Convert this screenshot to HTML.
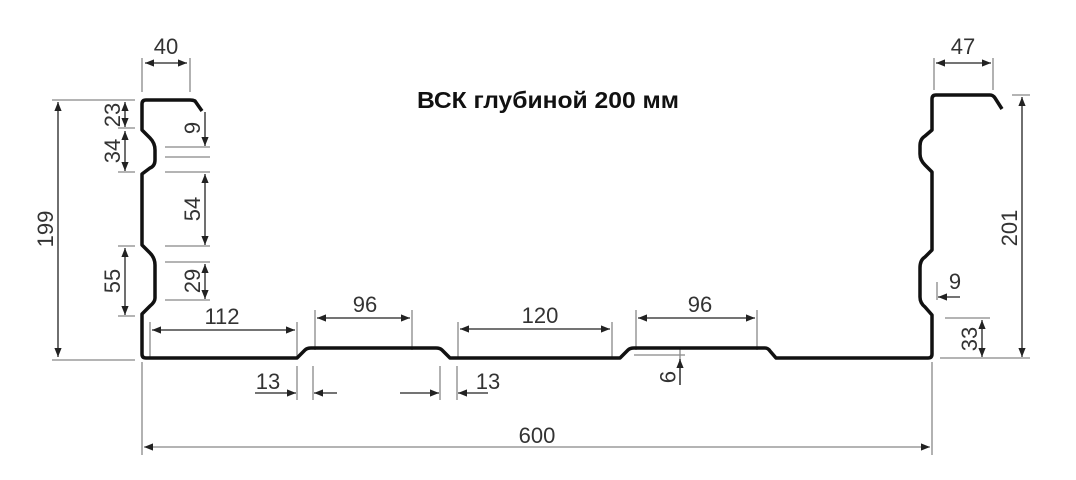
<!DOCTYPE html>
<html><head><meta charset="utf-8"><style>body{margin:0;background:#fff}svg{display:block}</style></head><body>
<svg width="1076" height="480" viewBox="0 0 1076 480" xmlns="http://www.w3.org/2000/svg">
<defs>
<marker id="a" viewBox="0 0 10 10" refX="10" refY="5" markerWidth="9" markerHeight="9" orient="auto-start-reverse" markerUnits="userSpaceOnUse"><path d="M0,1L10,5L0,9z" fill="#222"/></marker>
</defs>
<g stroke="#888" stroke-width="1.3" fill="none">
<path d="M142,58V92M190,58V92M52,100H135M52,360H135M118,128H135M118,172H135M118,246H135M118,316H135M165,147H210M165,157H210M165,172H210M165,246H210M165,262H210M165,300H210M150,322V358M297,322V358M315,310V350M412,310V350M458,322V358M612,322V358M636,310V350M757,310V350M297,366V400M313,366V400M440,366V400M457,366V400M634,355H685M680,348V385M142,362V455M932,362V455M934,58V90M993,58V90M1012,95H1030M940,358H1030M945,318H990M937,282V300"/>
</g>
<g stroke="#222" stroke-width="1.3" fill="none">
<line x1="145" y1="63" x2="187" y2="63" marker-start="url(#a)" marker-end="url(#a)"/>
<line x1="58" y1="102" x2="58" y2="357" marker-start="url(#a)" marker-end="url(#a)"/>
<line x1="125" y1="102" x2="125" y2="127" marker-start="url(#a)" marker-end="url(#a)"/>
<line x1="125" y1="131" x2="125" y2="171" marker-start="url(#a)" marker-end="url(#a)"/>
<line x1="125" y1="248" x2="125" y2="315" marker-start="url(#a)" marker-end="url(#a)"/>
<line x1="205" y1="112" x2="205" y2="146" marker-end="url(#a)"/>
<line x1="205" y1="174" x2="205" y2="245" marker-start="url(#a)" marker-end="url(#a)"/>
<line x1="205" y1="264" x2="205" y2="299" marker-start="url(#a)" marker-end="url(#a)"/>
<line x1="152" y1="330" x2="295" y2="330" marker-start="url(#a)" marker-end="url(#a)"/>
<line x1="317" y1="318" x2="410" y2="318" marker-start="url(#a)" marker-end="url(#a)"/>
<line x1="460" y1="329" x2="610" y2="329" marker-start="url(#a)" marker-end="url(#a)"/>
<line x1="638" y1="318" x2="755" y2="318" marker-start="url(#a)" marker-end="url(#a)"/>
<line x1="255" y1="393" x2="296" y2="393" marker-end="url(#a)"/>
<line x1="337" y1="393" x2="314" y2="393" marker-end="url(#a)"/>
<line x1="400" y1="393" x2="439" y2="393" marker-end="url(#a)"/>
<line x1="488" y1="393" x2="458" y2="393" marker-end="url(#a)"/>
<line x1="680" y1="385" x2="680" y2="359" marker-end="url(#a)"/>
<line x1="144" y1="447" x2="930" y2="447" stroke="#888" marker-start="url(#a)" marker-end="url(#a)"/>
<line x1="936" y1="63" x2="991" y2="63" marker-start="url(#a)" marker-end="url(#a)"/>
<line x1="1022" y1="97" x2="1022" y2="357" marker-start="url(#a)" marker-end="url(#a)"/>
<line x1="982" y1="320" x2="982" y2="357" marker-start="url(#a)" marker-end="url(#a)"/>
<line x1="960" y1="297" x2="938" y2="297" marker-end="url(#a)"/>
</g>
<path d="M202,111L195,101Q193,100 190,100H146Q142,100 142,104V130L150,138Q155,143 155,150V160Q155,166 150,168L142,174V245L150,253Q155,258 155,265V298Q155,302 150,306L142,314V354Q142,358 146,358H297L305,350Q307,348 311,348H436Q440,348 442,350L450,358H620L628,350Q630,348 634,348H765Q768,348 770,351L776,358H928Q932,358 932,354V315L925,307Q920,303 920,297V268Q920,260 925,257L932,250V172L925,165Q920,160 920,154V146Q920,139 925,136L932,130V99Q932,95 936,95H990Q993,95 995,98L1002,109" fill="none" stroke="#111" stroke-width="3.5" stroke-linejoin="round"/>
<g font-family="Liberation Sans, sans-serif" font-size="22" fill="#333" text-anchor="middle">
<text x="166" y="54">40</text>
<text x="963" y="54">47</text>
<text x="222" y="324">112</text>
<text x="365" y="312">96</text>
<text x="540" y="323">120</text>
<text x="700" y="312">96</text>
<text x="268" y="389">13</text>
<text x="488" y="389">13</text>
<text x="537" y="443">600</text>
<text x="955" y="289">9</text>
<text transform="translate(53,229) rotate(-90)">199</text>
<text transform="translate(120,115) rotate(-90)">23</text>
<text transform="translate(120,151) rotate(-90)">34</text>
<text transform="translate(120,281) rotate(-90)">55</text>
<text transform="translate(200,128) rotate(-90)">9</text>
<text transform="translate(200,209) rotate(-90)">54</text>
<text transform="translate(200,281) rotate(-90)">29</text>
<text transform="translate(1017,228) rotate(-90)">201</text>
<text transform="translate(977,339) rotate(-90)">33</text>
<text transform="translate(660,377) rotate(90)">9</text>
</g>
<text x="548" y="108" text-anchor="middle" font-family="Liberation Sans Narrow, Liberation Sans, sans-serif" font-weight="bold" font-size="23" fill="#111" textLength="262" lengthAdjust="spacingAndGlyphs">ВСК глубиной 200 мм</text>
</svg>
</body></html>
